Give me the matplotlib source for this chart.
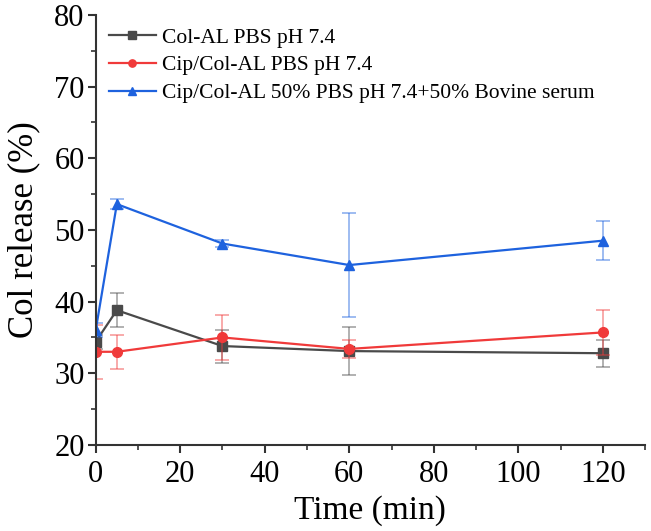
import numpy as np
import matplotlib.pyplot as plt
from matplotlib.ticker import MultipleLocator

plt.rcParams['font.family'] = ['Liberation Serif', 'DejaVu Serif']

time = [0, 5, 30, 60, 120]

col_pbs = [34.4, 38.8, 33.8, 33.1, 32.8]
col_pbs_err = [1.0, 2.4, 2.3, 3.3, 1.9]

cip_pbs = [33.0, 33.0, 35.0, 33.4, 35.7]
cip_pbs_err = [3.8, 2.4, 3.2, 1.3, 3.1]

cip_serum = [36.0, 53.6, 48.1, 45.1, 48.5]
cip_serum_err = [1.0, 0.7, 0.5, 7.2, 2.7]

labels = ['Col-AL PBS pH 7.4', 'Cip/Col-AL PBS pH 7.4',
          'Cip/Col-AL 50% PBS pH 7.4+50% Bovine serum']
colors = ['#4a4a4a', '#f03a3a', '#1e62de']
markers = ['s', 'o', '^']

fig = plt.figure(figsize=(6.51, 5.31), dpi=100)
ax = fig.add_axes([0.147, 0.162, 0.844, 0.81])

for y, e, c, m, lab in zip([col_pbs, cip_pbs, cip_serum],
                           [col_pbs_err, cip_pbs_err, cip_serum_err],
                           colors, markers, labels):
    ax.errorbar(time, y, yerr=e, fmt='none', ecolor=c, alpha=0.5,
                elinewidth=1.2, capsize=5, capthick=1.2)
    ax.plot(time, y, color=c, marker=m, markersize=7, linewidth=1.6, label=lab)

ax.set_xlim(0, 130)
ax.set_ylim(20, 80)
ax.set_xticks([0, 20, 40, 60, 80, 100, 120])
ax.set_yticks([20, 30, 40, 50, 60, 70, 80])
ax.xaxis.set_minor_locator(MultipleLocator(10))
ax.yaxis.set_minor_locator(MultipleLocator(5))
ax.spines['top'].set_visible(False)
ax.spines['right'].set_visible(False)
for s in ['left', 'bottom']:
    ax.spines[s].set_linewidth(1.5)
    ax.spines[s].set_color('#333333')
ax.tick_params(which='major', direction='out', length=6, width=1.5,
               labelsize=22, pad=2, color='#333333')
ax.tick_params(axis='x', which='major', pad=5)
ax.tick_params(which='minor', direction='out', length=3.5, width=1.2,
               color='#333333')
ax.set_xlabel('Time (min)', fontsize=24, labelpad=4)
ax.set_ylabel('Col release (%)', fontsize=25, labelpad=10)

ax.legend(loc='upper left', bbox_to_anchor=(0.0, 1.0), frameon=False,
          fontsize=15.5, handlelength=2.2, handletextpad=0.3,
          labelspacing=0.35, borderaxespad=0.2, markerscale=0.75)

fig.savefig('out.png', dpi=100)
